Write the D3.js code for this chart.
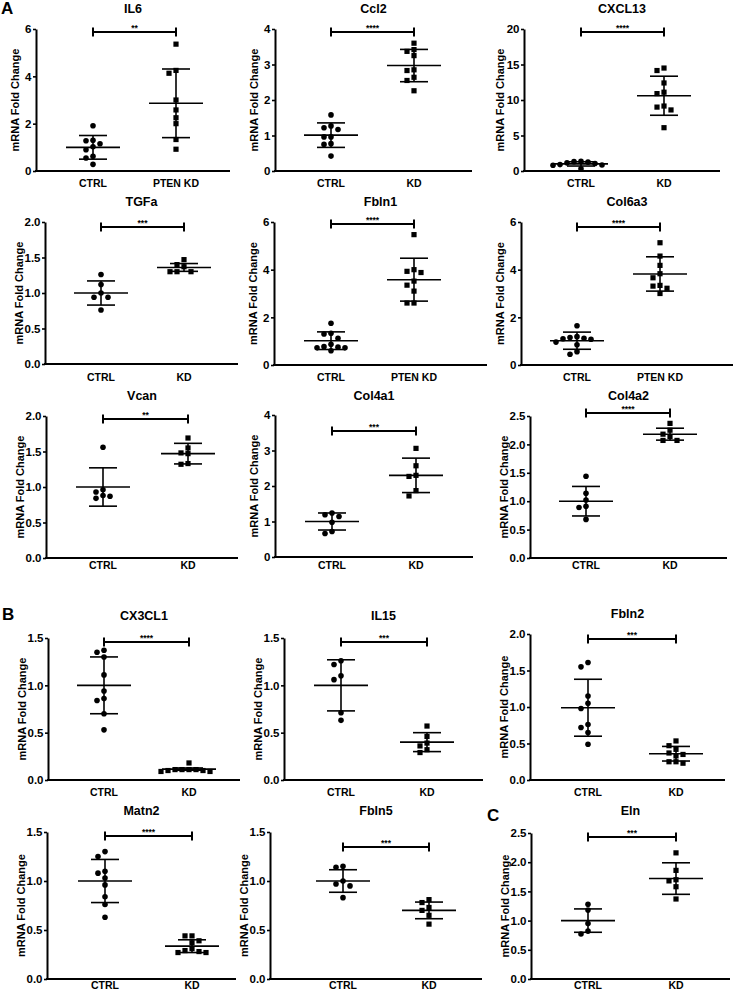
<!DOCTYPE html>
<html><head><meta charset="utf-8">
<script src="https://cdn.jsdelivr.net/npm/d3@7"></script>
<style>
body{margin:0;background:#fff}
svg{display:block}
text{font-family:"Liberation Sans",Arial,sans-serif;font-weight:bold;fill:#000}
</style>
</head><body>
<svg id="chart" width="734" height="995"></svg>
<script>
// ---------------- DATA ----------------
const genes = ["IL6","Ccl2","CXCL13","TGFa","Fbln1","Col6a3","Vcan","Col4a1","Col4a2","CX3CL1","IL15","Fbln2","Matn2","Fbln5","Eln"];
const kdLabels = ["PTEN KD","KD","KD","KD","PTEN KD","PTEN KD","KD","KD","KD","KD","KD","KD","KD","KD","KD"];
const ctrlLabel = "CTRL";
const stars = ["**","****","****","***","****","****","**","***","****","****","***","***","****","***","***"];
const yMax  = [6,4,20,2,6,6,2,4,2.5,1.5,1.5,2,1.5,1.5,2.5];
const yStep = [2,1,5,0.5,2,2,0.5,1,0.5,0.5,0.5,0.5,0.5,0.5,0.5];

const ctrlValues = [
  [1.91,1.30,1.28,1.15,1.02,0.90,0.62,0.55,0.28],
  [1.58,1.27,1.22,1.17,0.96,0.96,0.77,0.75,0.42],
  [1.35,1.32,1.25,1.15,1.05,0.90,0.85,0.80,0.30],
  [1.26,1.12,1.00,0.94,0.94,0.76],
  [1.75,1.33,1.30,1.12,0.87,0.77,0.75,0.72,0.72,0.60],
  [1.65,1.19,1.15,1.12,1.10,1.08,0.96,0.85,0.56,0.45],
  [1.56,0.96,0.93,0.88,0.87,0.84],
  [1.24,1.19,1.14,0.98,0.72,0.66],
  [1.44,1.14,1.02,0.91,0.89,0.68],
  [1.37,1.35,1.30,1.11,0.94,0.86,0.84,0.70,0.53],
  [1.26,1.22,1.10,1.06,0.71,0.63],
  [1.61,1.55,1.15,1.05,0.98,0.76,0.72,0.65,0.49],
  [1.30,1.25,1.10,1.08,1.03,0.96,0.84,0.76,0.63],
  [1.15,1.14,1.00,0.97,0.95,0.83],
  [1.28,1.18,0.95,0.82,0.77]
];
const kdValues = [
  [5.36,4.25,4.13,3.00,2.58,2.25,2.00,1.33,0.92],
  [3.60,3.42,3.37,3.25,2.85,2.83,2.64,2.55,2.26],
  [14.5,14.15,12.4,11.1,10.9,9.15,9.0,8.6,6.1],
  [1.47,1.40,1.37,1.30,1.30,1.30],
  [5.47,4.00,3.93,3.88,3.52,3.35,3.10,2.60,2.60],
  [5.13,4.57,4.18,3.83,3.66,3.34,3.31,3.22,3.00],
  [1.69,1.55,1.48,1.47,1.33,1.32],
  [3.06,2.57,2.30,2.27,1.87,1.72],
  [2.37,2.25,2.18,2.14,2.07,2.07],
  [0.18,0.11,0.11,0.11,0.11,0.10,0.10,0.09,0.09],
  [0.57,0.46,0.39,0.36,0.32,0.29],
  [0.535,0.47,0.42,0.37,0.35,0.33,0.25,0.25,0.23],
  [0.44,0.44,0.39,0.37,0.31,0.29,0.28,0.27,0.27],
  [0.81,0.78,0.73,0.70,0.65,0.56],
  [2.16,1.86,1.70,1.68,1.58,1.37]
];
const ctrlMean = [1.0,1.01,1.0,1.0,1.02,1.02,1.0,1.0,1.0,1.0,1.0,0.99,1.0,1.0,1.0];
const ctrlSD   = [0.5,0.345,0.3,0.17,0.37,0.36,0.27,0.24,0.26,0.3,0.27,0.39,0.22,0.115,0.2];
const kdMean   = [2.86,2.97,10.6,1.36,3.58,3.82,1.47,2.3,2.18,0.115,0.40,0.36,0.335,0.70,1.72];
const kdSD     = [1.45,0.455,2.75,0.055,0.9,0.72,0.145,0.485,0.105,0.012,0.10,0.10,0.065,0.085,0.27];

// ---------------- LAYOUT ----------------
const layout = [
  {ax:36, yT:29, y0:171,xE:230,cx:[93,176], br:32, ty:13, ly:187},
  {ax:275,yT:29, y0:171,xE:472,cx:[331,414],br:32, ty:13, ly:187},
  {ax:524,yT:29, y0:171,xE:720,cx:[581,664],br:32, ty:13, ly:187},
  {ax:45, yT:222,y0:364,xE:238,cx:[101,184],br:227,ty:206,ly:381},
  {ax:274,yT:222,y0:365,xE:487,cx:[331,414],br:224,ty:206,ly:381},
  {ax:521,yT:222,y0:365,xE:733,cx:[577,660],br:227,ty:206,ly:381},
  {ax:46, yT:416,y0:558,xE:238,cx:[103,188],br:419,ty:400,ly:569},
  {ax:275,yT:415,y0:557,xE:473,cx:[332,416],br:431,ty:400,ly:569},
  {ax:530,yT:416,y0:558,xE:727,cx:[586,670],br:413,ty:400,ly:569},
  {ax:48, yT:638,y0:780,xE:240,cx:[104,189],br:642,ty:620,ly:796},
  {ax:284,yT:638,y0:780,xE:483,cx:[341,427],br:642,ty:620,ly:796},
  {ax:530,yT:634,y0:780,xE:725,cx:[588,676],br:639,ty:618,ly:796},
  {ax:47, yT:832,y0:979,xE:236,cx:[105,192],br:836,ty:815,ly:989},
  {ax:270,yT:832,y0:979,xE:482,cx:[343,429],br:847,ty:815,ly:989},
  {ax:531,yT:833,y0:979,xE:730,cx:[588,676],br:837,ty:815,ly:989}
];
const panelLetters = [{t:"A",x:1,y:14},{t:"B",x:2,y:620},{t:"C",x:487,y:821}];

// ---------------- DRAW ----------------
const svg = d3.select("#chart");

function swarm(values, y, cx, s, d){
  const placed = [];
  const order = values.map((v,i)=>i).sort((a,b)=>values[b]-values[a]);
  order.forEach(i=>{
    const py = y(values[i]);
    const cands=[0];
    for(let k=1;k<12;k++){cands.push(-k*s, k*s);}
    for(const off of cands){
      const ok = placed.every(p=> !(Math.abs(p.y-py)<d && Math.abs(p.x-(cx+off))<s*0.95));
      if(ok){placed.push({x:cx+off,y:py,v:values[i]});break;}
    }
  });
  return placed;
}

genes.forEach((g,i)=>{
  const L = layout[i];
  const gEl = svg.append("g");
  const y = d3.scaleLinear().domain([0,yMax[i]]).range([L.y0,L.yT]);
  const x = d3.scalePoint().domain([ctrlLabel,kdLabels[i]]).range(L.cx);
  const ticks = d3.range(0,yMax[i]+1e-9,yStep[i]);
  const fmt = yStep[i]<1 ? d3.format(".1f") : d3.format("d");

  // y axis
  const yAxis = d3.axisLeft(y).tickValues(ticks).tickFormat(fmt).tickSize(3).tickSizeOuter(0).tickPadding(1.5);
  const ya = gEl.append("g").attr("transform",`translate(${L.ax},0)`).call(yAxis);
  ya.select(".domain").attr("stroke","#000").attr("stroke-width",2);
  ya.selectAll(".tick line").attr("stroke","#000").attr("stroke-width",1.6);
  ya.selectAll(".tick text").attr("font-size","11.5px").attr("font-family",'"Liberation Sans",Arial,sans-serif').attr("font-weight","bold").attr("fill","#000");

  // x axis line
  gEl.append("line").attr("x1",L.ax-1).attr("x2",L.xE).attr("y1",L.y0).attr("y2",L.y0)
     .attr("stroke","#000").attr("stroke-width",2);
  // category labels
  [ctrlLabel,kdLabels[i]].forEach(c=>{
    gEl.append("text").attr("x",x(c)).attr("y",L.ly).attr("text-anchor","middle")
      .attr("font-size","10.5px").text(c);
  });

  // y label
  const nch = fmt(yMax[i]).length;
  const lx = L.ax - (18 + 2.8*nch);
  gEl.append("text").attr("transform",`translate(${lx+4},${(L.yT+L.y0)/2}) rotate(-90)`)
    .attr("text-anchor","middle").attr("font-size","11px").text("mRNA Fold Change");

  // title
  gEl.append("text").attr("x",(L.ax+L.xE)/2).attr("y",L.ty).attr("text-anchor","middle")
    .attr("font-size","12.5px").text(g);

  // significance bracket
  const [c0,c1] = L.cx;
  gEl.append("path").attr("d",`M${c0},${L.br-4.5}V${L.br+4.5}M${c0},${L.br}H${c1}M${c1},${L.br-4.5}V${L.br+4.5}`)
    .attr("stroke","#000").attr("stroke-width",2).attr("fill","none");
  gEl.append("text").attr("x",(c0+c1)/2).attr("y",L.br-1.5).attr("text-anchor","middle")
    .attr("font-size","8.5px").attr("font-weight","normal").text(stars[i]);

  // points
  const groups = [
    {vals:ctrlValues[i], cx:x(ctrlLabel), shape:"circle", m:ctrlMean[i], sd:ctrlSD[i]},
    {vals:kdValues[i],   cx:x(kdLabels[i]), shape:"square", m:kdMean[i], sd:kdSD[i]}
  ];
  groups.forEach(G=>{
    const pts = swarm(G.vals, y, G.cx, 7, 5.5);
    if(G.shape==="circle"){
      gEl.selectAll(null).data(pts).enter().append("circle")
        .attr("cx",p=>p.x).attr("cy",p=>p.y).attr("r",2.8).attr("fill","#000");
    } else {
      gEl.selectAll(null).data(pts).enter().append("rect")
        .attr("x",p=>p.x-2.6).attr("y",p=>p.y-2.6).attr("width",5.2).attr("height",5.2).attr("fill","#000");
    }
    // error bars
    const eb = gEl.append("g").attr("stroke","#000").attr("stroke-width",1.6);
    eb.append("line").attr("x1",G.cx-27).attr("x2",G.cx+27).attr("y1",y(G.m)).attr("y2",y(G.m));
    eb.append("line").attr("x1",G.cx-14).attr("x2",G.cx+14).attr("y1",y(G.m+G.sd)).attr("y2",y(G.m+G.sd));
    eb.append("line").attr("x1",G.cx-14).attr("x2",G.cx+14).attr("y1",y(G.m-G.sd)).attr("y2",y(G.m-G.sd));
    eb.append("line").attr("x1",G.cx).attr("x2",G.cx).attr("y1",y(G.m-G.sd)).attr("y2",y(G.m+G.sd));
  });
});

panelLetters.forEach(p=>{
  svg.append("text").attr("x",p.x).attr("y",p.y).attr("font-size","17px").text(p.t);
});
</script>
</body></html>
